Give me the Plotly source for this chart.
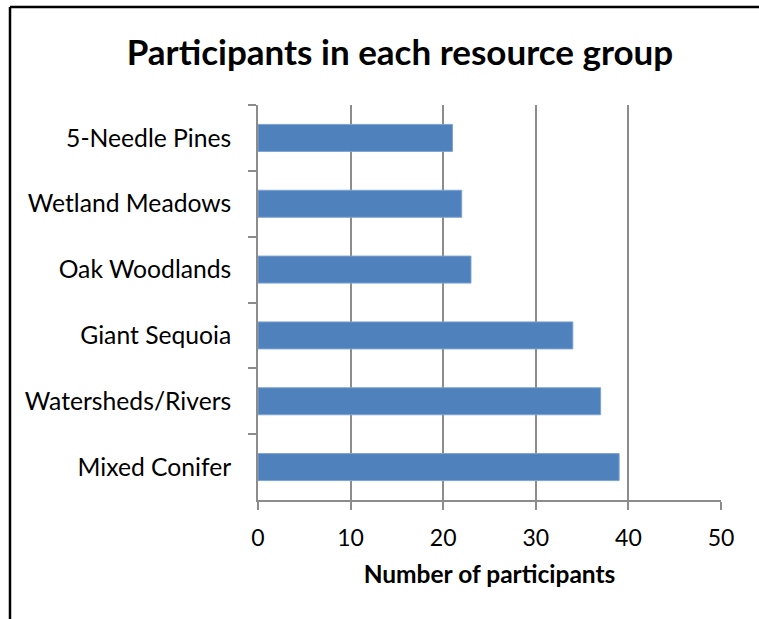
import plotly.graph_objects as go

# Resource groups, listed top to bottom as shown on the chart
groups = [
    "5-Needle Pines",
    "Wetland Meadows",
    "Oak Woodlands",
    "Giant Sequoia",
    "Watersheds/Rivers",
    "Mixed Conifer",
]
participants = [21, 22, 23, 34, 37, 39]
x_ticks = [0, 10, 20, 30, 40, 50]

FONT = "Lato"
GRID = "#8c8c8c"

fig = go.Figure(
    go.Bar(
        x=participants,
        y=groups,
        orientation="h",
        marker=dict(color="#4f81bd", line=dict(color="#7ea3d2", width=1)),
        hoverinfo="x+y",
    )
)

fig.update_layout(
    width=759,
    height=619,
    margin=dict(l=258, r=38, t=105, b=119),
    paper_bgcolor="white",
    plot_bgcolor="white",
    bargap=0.59,
    showlegend=False,
    title=dict(
        text="<b>Participants in each resource group</b>",
        x=0.527,
        xanchor="center",
        y=0.915,
        yanchor="middle",
        font=dict(family=FONT, size=35, color="black"),
    ),
    xaxis=dict(
        range=[0, 50],
        tickvals=x_ticks,
        ticktext=[str(v) for v in x_ticks],
        showgrid=True,
        gridcolor=GRID,
        gridwidth=1.5,
        showline=True,
        linecolor=GRID,
        linewidth=1.5,
        ticks="outside",
        ticklen=8,
        tickcolor=GRID,
        tickwidth=1.5,
        zeroline=False,
        ticklabelstandoff=9,
        tickfont=dict(family=FONT, size=23, color="black"),
        title=dict(
            text="<b>Number of participants</b>",
            font=dict(family=FONT, size=24.5, color="black"),
            standoff=16,
        ),
    ),
    yaxis=dict(
        categoryorder="array",
        categoryarray=groups,
        autorange="reversed",
        showgrid=False,
        showline=True,
        linecolor=GRID,
        linewidth=1.5,
        ticks="outside",
        tickson="boundaries",
        ticklen=8,
        tickcolor=GRID,
        tickwidth=1.5,
        ticklabelstandoff=20,
        tickfont=dict(family=FONT, size=24.7, color="black"),
    ),
)

# Frame lines along the left and top edges of the chart area
pw, ph = 759 - 258 - 38, 619 - 105 - 119
left_x = (10 - 258) / pw
top_y = (619 - 119 - 7) / ph
fig.add_shape(type="line", xref="paper", yref="paper",
              x0=left_x, x1=left_x, y0=top_y, y1=-119 / ph - 0.01,
              line=dict(color="black", width=2.5))
fig.add_shape(type="line", xref="paper", yref="paper",
              x0=left_x, x1=(759 - 258) / pw + 0.01, y0=top_y, y1=top_y,
              line=dict(color="black", width=2.5))

fig.write_html("out.html")
